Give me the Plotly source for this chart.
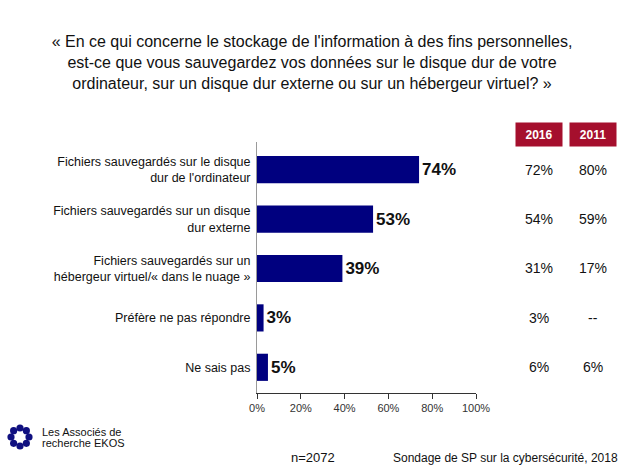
import math
import plotly.graph_objects as go

# Data
categories = [
    "Fichiers sauvegardés sur le disque<br>dur de l'ordinateur",
    "Fichiers sauvegardés sur un disque<br>dur externe",
    "Fichiers sauvegardés sur un<br>hébergeur virtuel/« dans le nuage »",
    "Préfère ne pas répondre",
    "Ne sais pas",
]
values_2018 = [74, 53, 39, 3, 5]
values_2016 = ["72%", "54%", "31%", "3%", "6%"]
values_2011 = ["80%", "59%", "17%", "--", "6%"]
table_years = ["2016", "2011"]
x_ticks = [0, 20, 40, 60, 80, 100]

FONT = "Arial, Liberation Sans, sans-serif"
W, H = 624, 468
L, R, T, B = 257, 148, 142, 75
PW, PH = W - L - R, H - T - B


def px(x):
    return (x - L) / PW


def py(y):
    return (H - B - y) / PH


fig = go.Figure()
fig.add_trace(go.Bar(
    y=categories,
    x=values_2018,
    orientation="h",
    width=0.55,
    marker=dict(color="#00007f", line=dict(width=0)),
    text=[f"{v}%" for v in values_2018],
    textposition="outside",
    textfont=dict(family=FONT, size=17, color="#111111", weight="bold"),
    cliponaxis=False,
    showlegend=False,
    hoverinfo="skip",
))

annotations = []
# table columns
for col_x, year, col in zip([539, 593], table_years, [values_2016, values_2011]):
    annotations.append(dict(
        x=px(col_x), y=py(134.5), xref="paper", yref="paper",
        text=f"<b>{year}</b>", showarrow=False,
        font=dict(family=FONT, size=12, color="white"),
        bgcolor="#a50f2d", width=44, height=21, borderpad=1,
        xanchor="center", yanchor="middle",
    ))
    for cat, v in zip(categories, col):
        annotations.append(dict(
            x=px(col_x), y=cat, xref="paper", yref="y",
            text=v, showarrow=False,
            font=dict(family=FONT, size=14, color="#111111"),
            xanchor="center", yanchor="middle",
        ))

# footer
annotations += [
    dict(x=px(313), y=py(457), xref="paper", yref="paper", text="n=2072",
         showarrow=False, font=dict(family=FONT, size=13, color="#111111"),
         xanchor="center", yanchor="middle"),
    dict(x=px(620), y=py(458), xref="paper", yref="paper",
         text="Sondage de SP sur la cybersécurité, 2018",
         showarrow=False, font=dict(family=FONT, size=12, color="#111111"),
         xanchor="right", yanchor="middle"),
    dict(x=px(40), y=py(432), xref="paper", yref="paper", text="Les Associés de",
         showarrow=False, font=dict(family=FONT, size=11, color="#111111"),
         xanchor="left", yanchor="middle"),
    dict(x=px(40), y=py(443), xref="paper", yref="paper", text="recherche EKOS",
         showarrow=False, font=dict(family=FONT, size=11, color="#111111"),
         xanchor="left", yanchor="middle"),
]

# simple logo: ring of small blue blobs
shapes = []
cx, cy = 20, 437
for i in range(8):
    a = i * math.pi / 4
    bx, by = cx + 9 * math.cos(a), cy + 9 * math.sin(a)
    r = 3.6
    shapes.append(dict(
        type="circle", xref="paper", yref="paper",
        x0=px(bx - r), x1=px(bx + r), y0=py(by + r), y1=py(by - r),
        fillcolor="#101080", line=dict(width=0),
    ))

fig.update_layout(
    width=W, height=H,
    margin=dict(l=L, r=R, t=T, b=B),
    paper_bgcolor="white", plot_bgcolor="white",
    font=dict(family=FONT, color="#111111"),
    title=dict(
        text="« En ce qui concerne le stockage de l'information à des fins personnelles,<br>"
             "est-ce que vous sauvegardez vos données sur le disque dur de votre<br>"
             "ordinateur, sur un disque dur externe ou sur un hébergeur virtuel? »",
        x=0.5, xanchor="center", xref="container",
        y=1 - 47 / H, yanchor="middle", yref="container",
        font=dict(family=FONT, size=16, color="#111111"),
    ),
    xaxis=dict(
        range=[0, 100], tickvals=x_ticks, ticktext=[f"{v}%" for v in x_ticks],
        showgrid=False, zeroline=False, showline=True, linecolor="#333333",
        ticks="outside", ticklen=5, tickcolor="#333333",
        tickfont=dict(family=FONT, size=11, color="#333333"),
        fixedrange=True,
    ),
    yaxis=dict(
        type="category", categoryorder="array", categoryarray=categories,
        range=[4.52, -0.56], showgrid=False, zeroline=False,
        showline=True, linecolor="#9a9a9a", ticks="",
        tickfont=dict(family=FONT, size=12.5, color="#111111"),
        ticklabelstandoff=3,
        fixedrange=True,
    ),
    annotations=annotations,
    shapes=shapes,
)

fig.write_html("out.html", config={"displayModeBar": False},
               post_script="document.body.style.margin='0';")
